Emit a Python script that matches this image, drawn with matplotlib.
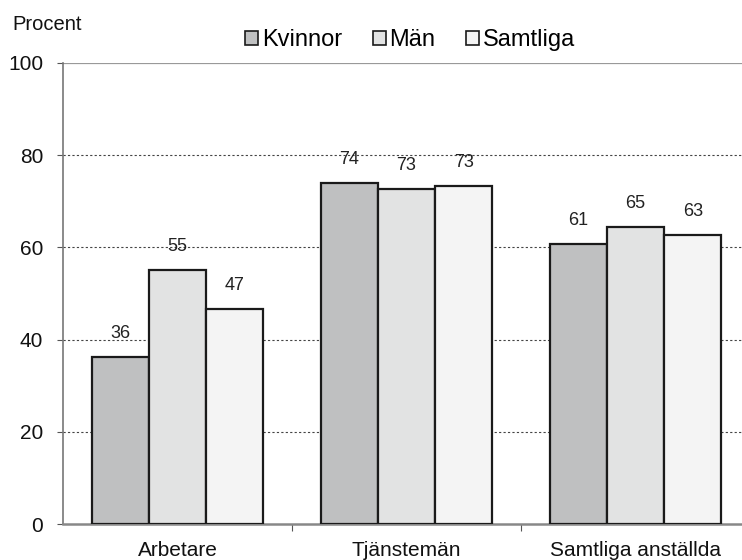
import matplotlib
matplotlib.use("Agg")
import matplotlib.pyplot as plt
import numpy as np

plt.rcParams['font.family'] = ['Liberation Sans', 'DejaVu Sans']

categories = ["Arbetare", "Tjänstemän", "Samtliga anställda"]
series_names = ["Kvinnor", "Män", "Samtliga"]
kvinnor = [36.2, 74.0, 60.7]
man = [55.1, 72.7, 64.4]
samtliga = [46.6, 73.3, 62.7]
labels_k = ["36", "74", "61"]
labels_m = ["55", "73", "65"]
labels_s = ["47", "73", "63"]
yticks = [0, 20, 40, 60, 80, 100]

colors = ["#bfc0c1", "#e2e3e3", "#f4f4f4"]

fig = plt.figure(figsize=(7.42, 5.6), dpi=100)
ax = fig.add_axes([63/742, 1-524/560, (742-63)/742, (524-63)/560])

x = np.arange(len(categories))
w = 0.25
data = [kvinnor, man, samtliga]
labs = [labels_k, labels_m, labels_s]
for i, (vals, name, c, lb) in enumerate(zip(data, series_names, colors, labs)):
    bars = ax.bar(x + (i-1)*w, vals, w, color=c, edgecolor="#1a1a1a", linewidth=1.6,
                  label=name, zorder=3)
    for b, t in zip(bars, lb):
        ax.text(b.get_x()+b.get_width()/2, b.get_height()+3.2, t, ha="center", va="bottom",
                fontsize=13, color="#222222", zorder=4)

ax.set_ylim(0, 100)
ax.set_xlim(-0.5, 2.5 - 8/229)
ax.set_yticks(yticks)
ax.set_yticklabels([str(v) for v in yticks], fontsize=15, color="#111111")
for v in yticks[1:-1]:
    ax.axhline(v, color="#444444", linestyle=(0, (2, 2)), linewidth=0.8, zorder=1)
ax.axhline(100, color="#999999", linewidth=1.6, zorder=1)

ax.set_xticks([0.5, 1.5])
ax.set_xticklabels([])
ax.tick_params(axis='x', length=5, direction='out', color="#555555")
ax.tick_params(axis='y', length=4.3, direction='out', color="#555555", pad=10)
for xi, cat in zip(x, categories):
    ax.text(xi, -3.6, cat, ha="center", va="top", fontsize=15, color="#111111",
            transform=ax.transData)

for s in ["top", "right"]:
    ax.spines[s].set_visible(False)
ax.spines["left"].set_color("#777777")
ax.spines["left"].set_linewidth(1.2)
ax.spines["bottom"].set_color("#888888")
ax.spines["bottom"].set_linewidth(1.8)

fig.text(12/742, 1-24/560, "Procent", fontsize=14.5, color="#111111", va="center", ha="left")
leg = fig.legend(loc="center", bbox_to_anchor=(410/742, 1-40/560), ncol=3, frameon=False,
                 fontsize=17, handlelength=0.55, handleheight=0.55, handletextpad=0.15,
                 columnspacing=1.3)
for h in leg.legend_handles:
    h.set_linewidth(1.2)

fig.savefig("out.png", dpi=100)
